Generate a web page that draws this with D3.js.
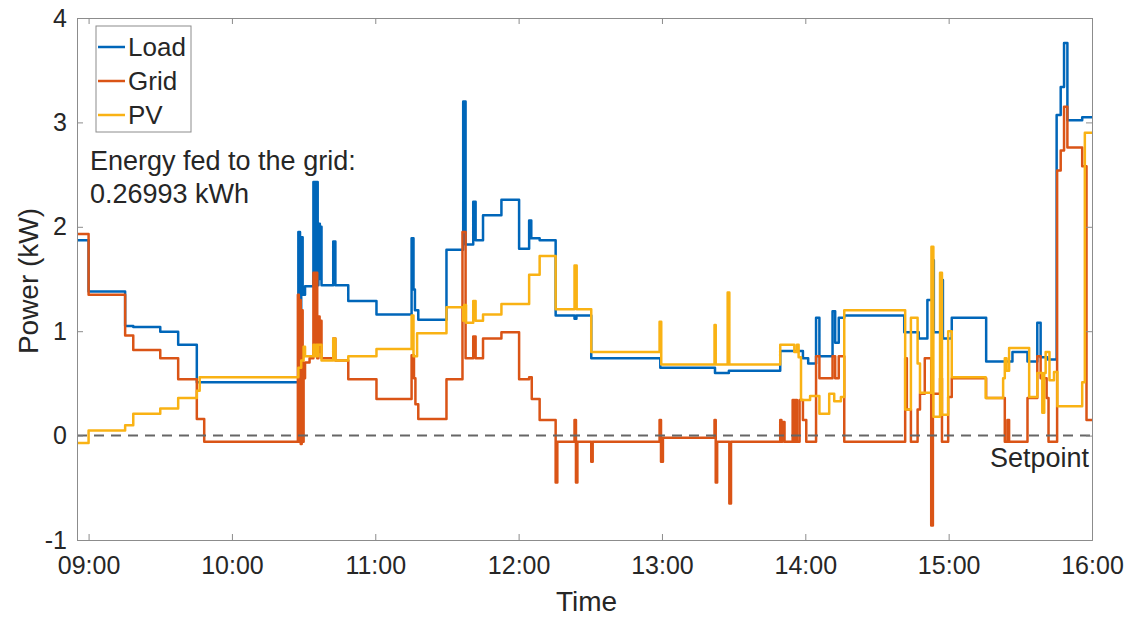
<html lang="en">
<head>
  <meta charset="UTF-8"/>
  <title>Power flows</title>
  <script src="https://d3js.org/d3.v7.min.js"></script>
  <style>
    body { margin: 0; background: #ffffff; }
    text { font-family: "Liberation Sans", Arial, sans-serif; fill: #262626; }
  </style>
</head>
<body>
<svg id="chart"></svg>
<script>
// minutes after 09:00, kW  (step after)
var loadSteps = [
  [-5, 1.87], [0, 1.38], [15.3, 1.05], [18.7, 1.04], [30, 0.995], [37.5, 0.87], [45.3, 0.51],
  [87.8, 1.95], [88.5, 0.6], [89, 1.9], [89.6, 1.35], [90.6, 1.43], [94.1, 2.43], [95, 1.5],
  [95.4, 2.43], [95.9, 1.44], [96.2, 2.03], [96.8, 1.5], [97.1, 2.0], [97.5, 1.44], [102.4, 1.86],
  [103.3, 1.44], [108.7, 1.29], [120.5, 1.16], [135.2, 1.89], [136, 1.4], [136.6, 1.2], [138, 1.11],
  [149.8, 1.78], [156.8, 3.2], [157.8, 1.83], [161, 2.24], [162, 1.87], [165.1, 2.11], [172.8, 2.26],
  [180.2, 1.79], [184.4, 2.06], [185.3, 1.89], [188.8, 1.87], [195.5, 1.15], [203.4, 1.12],
  [204.2, 1.15], [210.4, 0.74], [239.3, 0.65], [262.2, 0.60], [268, 0.62], [289.5, 0.81],
  [299, 0.74], [301.2, 0.69], [304.5, 1.13], [305.9, 0.76], [311.4, 1.19], [312.5, 0.89],
  [314, 1.13], [316.3, 1.15], [341.4, 0.99], [347.5, 0.93], [351.1, 1.30], [353.1, 1.68],
  [353.8, 0.99], [357, 1.49], [357.6, 0.93], [361.3, 1.13], [375.7, 0.71], [386.7, 0.80],
  [393, 0.71], [397.1, 1.08], [398.5, 0.75], [401.3, 0.73], [405.2, 3.07], [406.9, 3.34],
  [408.3, 3.76], [409.7, 3.02], [415.9, 3.05], [420, 3.05]
];
var gridSteps = [
  [-5, 1.93], [0, 1.35], [15.3, 0.96], [18.7, 0.82], [30, 0.74], [37.5, 0.54], [45.3, 0.16],
  [48.4, -0.06], [87.6, 1.35], [88, -0.06], [88.4, 1.3], [88.8, -0.08], [89.2, 1.2], [89.6, -0.06],
  [90, 0.55], [90.6, 0.70], [92.5, 0.74], [94.1, 1.56], [94.7, 0.8], [95.1, 1.56], [95.7, 0.74],
  [96.2, 1.14], [96.7, 0.8], [97, 1.1], [97.5, 0.74], [102.4, 0.93], [103.3, 0.72], [108.7, 0.54],
  [120.5, 0.35], [135.2, 0.77], [136.2, 0.55], [136.8, 0.3], [138, 0.16], [149.8, 0.54],
  [156.5, 1.95], [157.8, 0.74], [161, 0.95], [162, 0.74], [165.1, 0.93], [172.8, 0.99],
  [180.2, 0.54], [184.4, 0.56], [185.5, 0.35], [188.8, 0.15], [195.5, -0.45], [196.2, -0.06],
  [203.4, 0.15], [204, -0.45], [204.6, -0.06], [210.4, -0.25], [211, -0.06], [239, 0.15],
  [239.6, -0.25], [240.4, -0.02], [262, 0.15], [262.5, -0.45], [263.1, -0.06], [268.2, -0.65],
  [268.9, -0.06], [289.5, 0.15], [290, -0.06], [290.4, 0.13], [291.3, -0.06], [294.7, 0.34],
  [295.4, -0.06], [295.9, 0.34], [296.5, -0.06], [297.6, 0.34], [299, 0.15], [300.4, -0.06],
  [304.5, 0.76], [305.9, 0.55], [311.4, 0.76], [312.5, 0.55], [314, 0.76], [316.3, -0.06],
  [341.8, 0.74], [342.5, 0.25], [344.2, -0.06], [347, 0.25], [348, 0.40], [350, 0.74],
  [352.7, -0.86], [353.4, 0.4], [356.4, 0.55], [357.2, -0.06], [359.8, 0.37], [361.3, 0.55],
  [375.7, 0.36], [383.5, -0.06], [384.6, 0.15], [385.3, -0.06], [393, 0.36], [397.1, 0.76],
  [398.5, 0.55], [401, 0.36], [401.8, -0.06], [405.4, 2.54], [406.9, 2.73], [408.3, 3.15],
  [409.7, 2.76], [415.9, 2.58], [417.7, 0.15], [420, 0.15]
];
var pvSteps = [
  [-5, -0.07], [0, 0.05], [15.3, 0.10], [18.7, 0.21], [30, 0.26], [37.5, 0.36], [45.3, 0.43],
  [46.5, 0.56], [87.8, 0.65], [89, 0.72], [90, 0.85], [90.6, 0.76], [94.1, 0.87], [94.6, 0.76],
  [95.2, 0.87], [95.8, 0.76], [96.2, 0.87], [97.5, 0.72], [102.4, 0.93], [103.3, 0.72],
  [108.7, 0.76], [120.5, 0.83], [135.2, 1.15], [136, 0.76], [137.5, 0.98], [149.8, 1.23],
  [156.8, 1.1], [157.2, 1.25], [158, 1.08], [161, 1.29], [162, 1.10], [165.1, 1.16], [172.8, 1.26],
  [184.4, 1.54], [188.8, 1.72], [195.5, 1.21], [203.4, 1.63], [204.3, 1.21], [210.4, 0.80],
  [239, 1.09], [239.7, 0.68], [262, 1.06], [262.5, 0.68], [267.5, 1.37], [268.2, 0.68],
  [289.5, 0.87], [295.4, 0.8], [296.5, 0.87], [297.2, 0.75], [298.2, 0.34], [302, 0.38],
  [305.9, 0.21], [310, 0.40], [312.1, 0.33], [314.9, 0.37], [316.3, 1.20], [341.8, 0.25],
  [344.2, 1.13], [347, 0.69], [348, 0.41], [352.8, 1.81], [353.6, 0.18], [356.4, 1.56],
  [357.2, 0.20], [359.8, 1.0], [361.3, 0.56], [375.5, 0.36], [382.8, 0.55], [383.5, 0.74],
  [384.2, 0.62], [385.3, 0.84], [393.7, 0.37], [397.1, 0.6], [399.2, 0.22], [400, 0.6],
  [400.6, 0.80], [402.2, 0.53], [404.1, 0.61], [405.5, 0.28], [415.9, 0.51], [417, 2.90], [420, 2.90]
];
var seriesNames = ["Load", "Grid", "PV"];
var seriesColors = ["#0066B9", "#DA5416", "#F9B214"];
var xTickLabels = ["09:00", "10:00", "11:00", "12:00", "13:00", "14:00", "15:00", "16:00"];
var yTickValues = [-1, 0, 1, 2, 3, 4];
var setpoint = 0;
var note = ["Energy fed to the grid:", "0.26993 kWh"];

var width = 1134, height = 619;
var margin = {top: 18, right: 42, bottom: 79, left: 77};
var w = width - margin.left - margin.right,
    h = height - margin.top - margin.bottom;

var base = new Date(2020, 0, 1, 9, 0);
function toDate(m) { return new Date(base.getTime() + m * 60000); }

var x = d3.scaleTime()
    .domain([toDate(-4.85), toDate(420)])
    .range([0, w]);
var y = d3.scaleLinear().domain([-1, 4]).range([h, 0]);

var svg = d3.select("#chart").attr("width", width).attr("height", height);
var g = svg.append("g").attr("transform", "translate(" + margin.left + "," + margin.top + ")");

svg.append("defs").append("clipPath").attr("id", "clip")
  .append("rect").attr("width", w).attr("height", h);

var xTicks = xTickLabels.map(function(s){
  var p = s.split(":");
  return toDate((+p[0] - 9) * 60 + (+p[1]));
});

// series
var line = d3.line()
    .x(function(d){ return x(toDate(d[0])); })
    .y(function(d){ return y(d[1]); })
    .curve(d3.curveStepAfter);

var plot = g.append("g").attr("clip-path", "url(#clip)");
[loadSteps, gridSteps, pvSteps].forEach(function(s, i){
  plot.append("path")
    .datum(s)
    .attr("fill", "none")
    .attr("stroke", seriesColors[i])
    .attr("stroke-width", 2.5)
    .attr("stroke-linejoin", "round")
    .attr("d", line);
});

// setpoint
plot.append("line")
  .attr("x1", 0).attr("x2", w)
  .attr("y1", y(setpoint)).attr("y2", y(setpoint))
  .attr("stroke", "#666666")
  .attr("stroke-width", 2)
  .attr("stroke-dasharray", "10,7");

// axes (box with inner ticks)
var axisColor = "#8c8c8c";
var xAxis = d3.axisBottom(x).tickValues(xTicks).tickSize(-6).tickPadding(16)
    .tickFormat(function(d, i){ return xTickLabels[i]; });
var xTop = d3.axisTop(x).tickValues(xTicks).tickSize(-6).tickFormat("");
var yAxis = d3.axisLeft(y).tickValues(yTickValues).tickSize(-6).tickPadding(10)
    .tickFormat(function(d){ return String(d); });
var yRight = d3.axisRight(y).tickValues(yTickValues).tickSize(-6).tickFormat("");

function style(sel) {
  sel.selectAll("path").attr("stroke", axisColor);
  sel.selectAll("line").attr("stroke", axisColor);
  sel.selectAll("text").style("font-size", "25px").attr("fill", "#262626")
    .style("font-family", "'Liberation Sans', Arial, sans-serif");
}
g.append("g").attr("transform", "translate(0," + h + ")").call(xAxis).call(style);
g.append("g").call(xTop).call(style);
g.append("g").call(yAxis).call(style);
g.append("g").attr("transform", "translate(" + w + ",0)").call(yRight).call(style);

// axis labels
svg.append("text")
  .attr("x", margin.left + w / 2 + 2).attr("y", 611)
  .attr("text-anchor", "middle")
  .style("font-size", "28px")
  .text("Time");
svg.append("text")
  .attr("transform", "translate(38," + (margin.top + h / 2 + 2) + ") rotate(-90)")
  .attr("text-anchor", "middle")
  .style("font-size", "28px")
  .text("Power (kW)");

// setpoint label
g.append("text")
  .attr("x", w - 3).attr("y", y(setpoint) + 31)
  .attr("text-anchor", "end")
  .style("font-size", "27px")
  .text("Setpoint");

// note
g.selectAll(".note").data(note).enter().append("text")
  .attr("class", "note")
  .attr("x", 13)
  .attr("y", function(d, i){ return 152 + i * 33; })
  .style("font-size", "27px")
  .text(function(d){ return d; });

// legend
var lg = svg.append("g").attr("transform", "translate(96,26)");
lg.append("rect").attr("width", 95).attr("height", 106)
  .attr("fill", "#ffffff").attr("stroke", "#8c8c8c").attr("stroke-width", 1);
seriesNames.forEach(function(n, i){
  var yy = 21 + i * 34;
  lg.append("line").attr("x1", 2).attr("x2", 29).attr("y1", yy).attr("y2", yy)
    .attr("stroke", seriesColors[i]).attr("stroke-width", 2.5);
  lg.append("text").attr("x", 32).attr("y", yy + 9)
    .style("font-size", "26px").text(n);
});
</script>
</body>
</html>
